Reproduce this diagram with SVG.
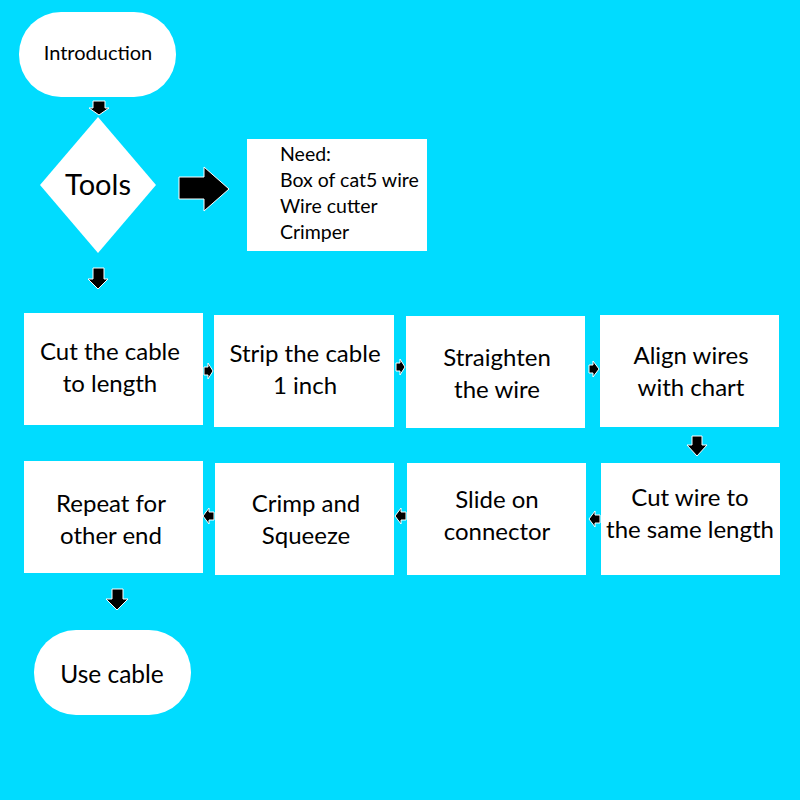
<svg xmlns="http://www.w3.org/2000/svg" width="800" height="800" viewBox="0 0 800 800">
<style>
.n{fill:#fff}
.t{font-family:Lato,"Open Sans","Liberation Sans",sans-serif;fill:#000;text-anchor:middle}
.s{text-anchor:start;font-size:19.5px}
.b{font-size:24px}
.a{fill:#000;stroke:#fff;stroke-width:1}
</style>
<rect width="800" height="800" fill="#00dcff"/>
<g id="intro"><rect class="n" x="19" y="12" width="157" height="85" rx="42"/><text class="t" x="98" y="60" font-size="20">Introduction</text></g>
<g id="tools"><polygon class="n" points="98,117 156,185 98,253 40,185"/><text class="t" x="98" y="195" font-size="29">Tools</text></g>
<g id="need"><rect class="n" x="247" y="139" width="180" height="112"/>
<text class="t s" x="280" y="161">Need:</text>
<text class="t s" x="280" y="187">Box of cat5 wire</text>
<text class="t s" x="280" y="213">Wire cutter</text>
<text class="t s" x="280" y="239">Crimper</text></g>
<g id="n1"><rect class="n" x="24" y="313" width="179" height="112"/><text class="t b" x="110" y="360">Cut the cable</text><text class="t b" x="110" y="392">to length</text></g>
<g id="n2"><rect class="n" x="214" y="315" width="180" height="112"/><text class="t b" x="305" y="362">Strip the cable</text><text class="t b" x="305" y="394">1 inch</text></g>
<g id="n3"><rect class="n" x="406" y="316" width="179" height="112"/><text class="t b" x="497" y="366">Straighten</text><text class="t b" x="497" y="398">the wire</text></g>
<g id="n4"><rect class="n" x="600" y="315" width="179" height="112"/><text class="t b" x="691" y="364">Align wires</text><text class="t b" x="691" y="396">with chart</text></g>
<g id="n5"><rect class="n" x="24" y="461" width="179" height="112"/><text class="t b" x="111" y="512">Repeat for</text><text class="t b" x="111" y="544">other end</text></g>
<g id="n6"><rect class="n" x="215" y="463" width="179" height="112"/><text class="t b" x="306" y="512">Crimp and</text><text class="t b" x="306" y="544">Squeeze</text></g>
<g id="n7"><rect class="n" x="407" y="463" width="179" height="112"/><text class="t b" x="497" y="508">Slide on</text><text class="t b" x="497" y="540">connector</text></g>
<g id="n8"><rect class="n" x="601" y="463" width="179" height="112"/><text class="t b" x="690" y="506">Cut wire to</text><text class="t b" x="690" y="538">the same length</text></g>
<g id="use"><rect class="n" x="34" y="630" width="157" height="85" rx="42"/><text class="t" x="112" y="683" font-size="24.5">Use cable</text></g>
<g id="connectors">
<polygon class="a" points="93,101 105,101 105,108 109,108 99,115 89,108 93,108"/>
<polygon class="a" points="93,268 104,268 104,279 108,279 98,289 88,279 93,279"/>
<polygon class="a" points="179,177 204,177 204,167 229,189 204,211 204,199 179,199"/>
<polygon class="a" points="204,367 208,367 208,363 213,371 208,379 208,375 204,375"/>
<polygon class="a" points="396,363 400,363 400,359 405,367 400,375 400,371 396,371"/>
<polygon class="a" points="589,365 593,365 593,361 599,369 593,377 593,373 589,373"/>
<polygon class="a" points="692,436 702,436 702,445 707,445 697,456 687,445 692,445"/>
<polygon class="a" points="600,515 595,515 595,511 589,519 595,527 595,523 600,523"/>
<polygon class="a" points="406,512 401,512 401,508 395,516 401,524 401,520 406,520"/>
<polygon class="a" points="214,512 209,512 209,508 203,516 209,524 209,520 214,520"/>
<polygon class="a" points="112,589 123,589 123,599 128,599 117,610 106,599 112,599"/>
</g>
</svg>
